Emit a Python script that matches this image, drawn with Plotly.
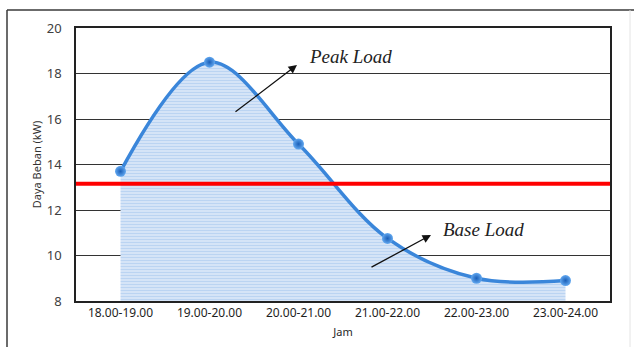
import plotly.graph_objects as go

categories = ["18.00-19.00", "19.00-20.00", "20.00-21.00", "21.00-22.00", "22.00-23.00", "23.00-24.00"]
load_kw = [13.7, 18.5, 14.9, 10.75, 9.0, 8.9]
base_limit = 13.15
y_ticks = [8, 10, 12, 14, 16, 18, 20]

W, H = 635, 347
L, R, T, B = 76, 25, 28, 46
PW, PH = W - L - R, H - T - B

def px(x):
    return (x - L) / PW

def py(y):
    return (H - B - y) / PH

fig = go.Figure()
fig.add_trace(go.Scatter(
    x=categories, y=load_kw, mode="lines+markers",
    line=dict(shape="spline", smoothing=1.0, color="#3A86DA", width=3.5),
    fill="tozeroy",
    fillcolor="#78AAE6",
    fillpattern=dict(shape="-", fgcolor="#78AAE6", bgcolor="white", size=3, solidity=0.75),
    marker=dict(size=11, color="#62A8F0", gradient=dict(type="radial", color="#1A5FB8"),
                line=dict(width=0)),
    showlegend=False, hoverinfo="skip",
))

fig.add_shape(type="line", xref="paper", yref="y", x0=0, x1=1, y0=base_limit, y1=base_limit,
              line=dict(color="#FF0000", width=4), layer="above")

# outer frame
fig.add_shape(type="line", xref="paper", yref="paper", x0=px(7), x1=px(634), y0=py(10), y1=py(10),
              line=dict(color="#3A3A3A", width=1.5))
fig.add_shape(type="line", xref="paper", yref="paper", x0=px(7), x1=px(7), y0=py(10), y1=py(347),
              line=dict(color="#3A3A3A", width=1.5))
fig.add_shape(type="line", xref="paper", yref="paper", x0=px(630), x1=px(630), y0=py(10), y1=py(347),
              line=dict(color="#E4E4E4", width=1))

fig.add_annotation(xref="paper", yref="paper", x=px(297), y=py(65), ax=234 - 297, ay=113 - 65,
                   axref="pixel", ayref="pixel", text="", showarrow=True, arrowhead=2,
                   arrowsize=1.3, arrowwidth=1.3, arrowcolor="#111111")
fig.add_annotation(xref="paper", yref="paper", x=px(431), y=py(235), ax=370 - 431, ay=268 - 235,
                   axref="pixel", ayref="pixel", text="", showarrow=True, arrowhead=2,
                   arrowsize=1.3, arrowwidth=1.3, arrowcolor="#111111")
fig.add_annotation(xref="paper", yref="paper", x=px(350), y=py(57), text="<i>Peak Load</i>",
                   xanchor="center", yanchor="middle",
                   showarrow=False, font=dict(family="Liberation Serif", size=19, color="#222222"))
fig.add_annotation(xref="paper", yref="paper", x=px(483), y=py(229), text="<i>Base Load</i>",
                   xanchor="center", yanchor="middle",
                   showarrow=False, font=dict(family="Liberation Serif", size=19, color="#222222"))

fig.update_layout(
    width=W, height=H, margin=dict(l=L, r=R, t=T, b=B, autoexpand=False),
    paper_bgcolor="white", plot_bgcolor="white",
    xaxis=dict(type="category", range=[-0.5, 5.5], showgrid=False, showline=True, automargin=False,
               linecolor="#222222", linewidth=1.5, mirror=True, ticks="",
               tickfont=dict(family="Noto Sans", size=12, color="#1E1E1E"),
               title=dict(text="Jam", font=dict(family="Noto Sans", size=11, color="#262626"), standoff=8)),
    yaxis=dict(range=[8, 20], tickvals=y_ticks, showgrid=True, gridcolor="#333333", gridwidth=1.3,
               showline=True, linecolor="#222222", linewidth=1.5, mirror=True, ticks="", automargin=False,
               zeroline=False, ticklabelstandoff=10,
               tickfont=dict(family="Noto Sans", size=13, color="#404040"),
               title=dict(text="Daya Beban (kW)", font=dict(family="Noto Sans", size=11, color="#333333"), standoff=3)),
)

fig.write_html("out.html", config={"displayModeBar": False},
               post_script="document.body.style.margin='0';document.body.style.padding='0';")
